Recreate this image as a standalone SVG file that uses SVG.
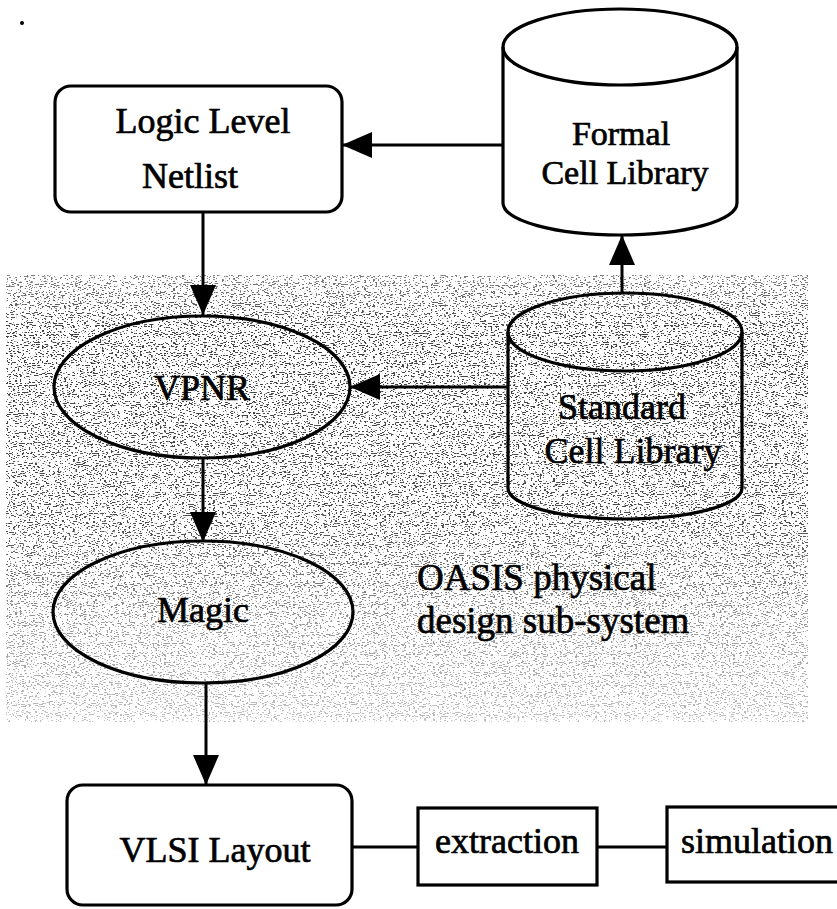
<svg xmlns="http://www.w3.org/2000/svg" width="837" height="909" viewBox="0 0 837 909">
<style>
.box{fill:none;stroke:#000;stroke-width:3.2}
.line{fill:none;stroke:#000;stroke-width:3}
.t{font-family:"Liberation Serif","Times New Roman",serif;font-size:36px;fill:#000;stroke:#000;stroke-width:0.7;text-anchor:middle}
.tl{font-family:"Liberation Serif","Times New Roman",serif;font-size:37px;fill:#000;stroke:#000;stroke-width:0.7}
</style>
<defs>
<marker id="arr" markerUnits="userSpaceOnUse" viewBox="0 0 30 26" refX="30" refY="13" markerWidth="30" markerHeight="26" orient="auto">
<path d="M0,0 L30,13 L0,26 z" fill="#000"/>
</marker>
<linearGradient id="shadeGrad" x1="0" y1="0" x2="0" y2="1">
<stop offset="0" stop-color="#000" stop-opacity="0.5"/>
<stop offset="0.12" stop-color="#000" stop-opacity="0.75"/>
<stop offset="0.55" stop-color="#000" stop-opacity="0.7"/>
<stop offset="0.78" stop-color="#000" stop-opacity="0.4"/>
<stop offset="1" stop-color="#000" stop-opacity="0.25"/>
</linearGradient>
<filter id="dither" x="0" y="0" width="100%" height="100%" color-interpolation-filters="sRGB">
<feTurbulence type="fractalNoise" baseFrequency="0.45 1.1" numOctaves="1" seed="5" result="t"/>
<feColorMatrix in="t" type="matrix" values="0 0 0 0 0  0 0 0 0 0  0 0 0 0 0  -25 0 0 0 10.5" result="d"/>
<feComposite in="d" in2="SourceGraphic" operator="in"/>
</filter>
</defs>
<rect width="837" height="909" fill="#fff"/>
<g id="shading">
<rect x="6" y="275" width="802" height="447" fill="url(#shadeGrad)" filter="url(#dither)"/>
</g>
<circle cx="22" cy="23" r="2" fill="#000"/>
<g id="connectors">
<line class="line" x1="503" y1="145" x2="342" y2="145" marker-end="url(#arr)"/>
<line class="line" x1="203" y1="212" x2="203" y2="315" marker-end="url(#arr)"/>
<line class="line" x1="622" y1="293" x2="622" y2="235" marker-end="url(#arr)"/>
<line class="line" x1="509" y1="387" x2="350" y2="387" marker-end="url(#arr)"/>
<line class="line" x1="203" y1="458" x2="203" y2="542" marker-end="url(#arr)"/>
<line class="line" x1="206" y1="683" x2="206" y2="785" marker-end="url(#arr)"/>
<line class="line" x1="352" y1="847" x2="418" y2="847"/>
<line class="line" x1="597" y1="847" x2="667" y2="847"/>
</g>
<g id="logic-netlist">
<rect class="box" x="55" y="86" width="287" height="126" rx="16"/>
<text class="t" x="203" y="133">Logic Level</text>
<text class="t" x="190" y="188">Netlist</text>
</g>
<g id="formal-cell-library">
<ellipse class="box" cx="620" cy="47" rx="117" ry="38"/>
<path class="box" d="M503,47 L503,203 A117,32 0 0 0 737,203 L737,47"/>
<text class="t" x="621" y="145" style="font-size:34px">Formal</text>
<text class="t" x="625" y="184" style="font-size:34px">Cell Library</text>
</g>
<g id="standard-cell-library">
<ellipse class="box" cx="625" cy="332" rx="117" ry="39"/>
<path class="box" d="M508,332 L508,488 A117,31 0 0 0 742,488 L742,332"/>
<text class="t" x="622" y="419" style="font-size:36px">Standard</text>
<text class="t" x="633" y="463" style="font-size:36px">Cell Library</text>
</g>
<g id="vpnr">
<ellipse class="box" cx="202" cy="387" rx="148" ry="71"/>
<text class="t" x="202" y="400">VPNR</text>
</g>
<g id="magic">
<ellipse class="box" cx="203" cy="612" rx="150" ry="71"/>
<text class="t" x="203" y="622">Magic</text>
</g>
<g id="oasis-label">
<text class="tl" x="417" y="590">OASIS physical</text>
<text class="tl" x="417" y="633">design sub-system</text>
</g>
<g id="vlsi-layout">
<rect class="box" x="67" y="785" width="285" height="120" rx="16"/>
<text class="t" x="215" y="862">VLSI Layout</text>
</g>
<g id="extraction">
<rect class="box" x="418" y="808" width="179" height="77"/>
<text class="t" x="507" y="853">extraction</text>
</g>
<g id="simulation">
<rect class="box" x="667" y="807" width="190" height="75"/>
<text class="t" x="757" y="853">simulation</text>
</g>
</svg>
